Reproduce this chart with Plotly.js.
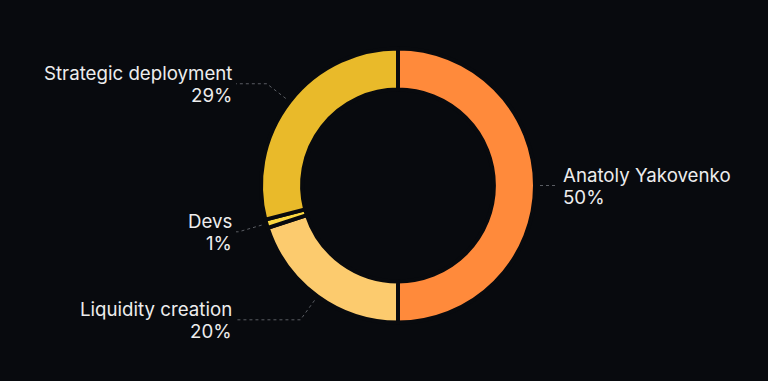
<!DOCTYPE html>
<html>
<head>
<meta charset="utf-8">
<script src="https://cdn.plot.ly/plotly-3.0.1.min.js"></script>
<style>html,body{margin:0;padding:0;background:#080a0e;}#chart{width:768px;height:381px;}</style>
</head>
<body>
<div id="chart"></div>
<script>
const labels = ["Anatoly Yakovenko", "Liquidity creation", "Devs", "Strategic deployment"];
const values = [50, 20, 1, 29];
const colors = ["#ff8a3b", "#fccb6e", "#fbd740", "#e9ba2a"];

const W = 768, H = 381;
const cx = 398, cy = 185.5, R = 137;
const bg = "#080a0e";

const total = values.reduce((a, b) => a + b, 0);
const shapes = [];
const annotations = [];
let cum = 0;
values.forEach((v, i) => {
  const mid = (cum + v / 2) / total * 2 * Math.PI;
  cum += v;
  const sx = Math.sin(mid), sy = -Math.cos(mid);
  const r1 = R + 5, r2 = R + 29;
  const p1 = [cx + r1 * sx, cy + r1 * sy];
  let p2 = [cx + r2 * sx, cy + r2 * sy];
  const right = sx > 0;
  const edge = right ? 558 : 236;
  if (right && p2[0] > edge) p2[0] = edge;
  if (!right && p2[0] < edge) p2[0] = edge;
  const p3 = [edge, p2[1]];
  shapes.push({
    type: "path", xref: "x", yref: "y",
    path: `M${p1[0]},${p1[1]} L${p2[0]},${p2[1]} L${p3[0]},${p3[1]}`,
    line: {color: "#5a5d63", width: 1, dash: "3px,3px"}
  });
  const pct = Math.round(v / total * 100) + "%";
  const common = {
    xref: "x", yref: "y",
    x: right ? edge + 3 : edge - 2,
    xanchor: right ? "left" : "right", yanchor: "middle",
    align: right ? "left" : "right",
    showarrow: false,
    font: {family: "Inter, sans-serif", size: 18.7, color: "#ededed"}
  };
  annotations.push(Object.assign({}, common, {y: p3[1] - 10.5, text: labels[i]}));
  annotations.push(Object.assign({}, common, {y: p3[1] + 12, text: pct}));
});

const trace = {
  type: "pie",
  labels: labels,
  values: values,
  sort: false,
  direction: "clockwise",
  rotation: 0,
  hole: 0.70,
  textinfo: "none",
  hoverinfo: "label+percent",
  marker: {colors: colors, line: {color: bg, width: 4}},
  domain: {x: [(cx - R) / W, (cx + R) / W], y: [(H - cy - R) / H, (H - cy + R) / H]},
  showlegend: false
};

const layout = {
  width: W, height: H,
  margin: {l: 0, r: 0, t: 0, b: 0},
  paper_bgcolor: bg, plot_bgcolor: bg,
  xaxis: {range: [0, W], visible: false, fixedrange: true},
  yaxis: {range: [H, 0], visible: false, fixedrange: true},
  shapes: shapes,
  annotations: annotations,
  showlegend: false
};

Plotly.newPlot("chart", [trace], layout, {displayModeBar: false, staticPlot: true});
</script>
</body>
</html>
